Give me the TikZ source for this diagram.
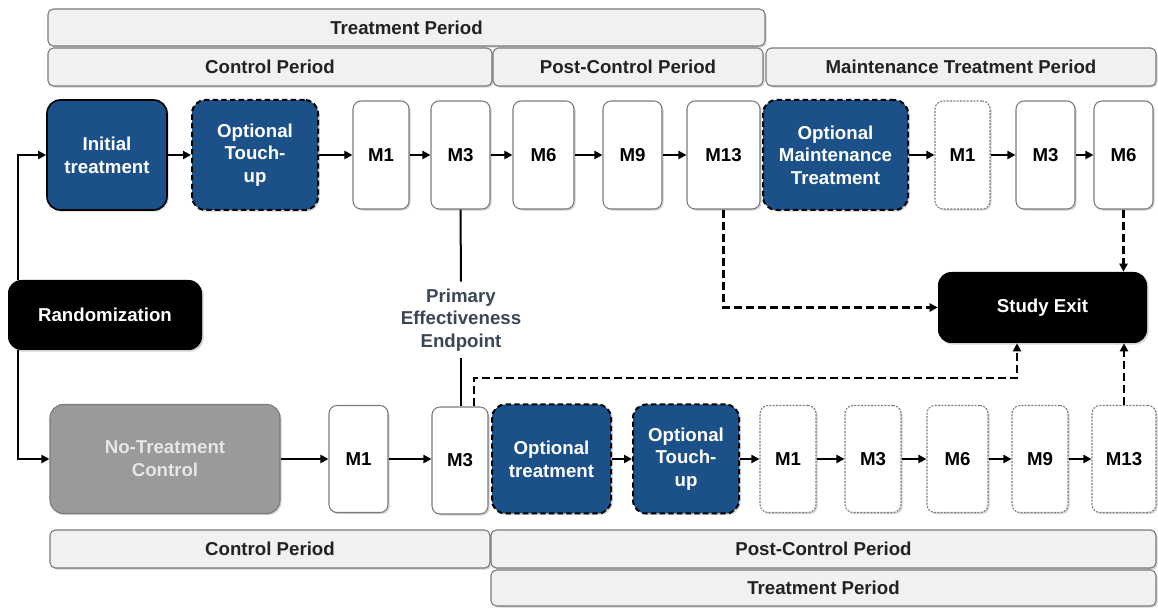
\documentclass[tikz,border=0pt]{standalone}
\usepackage{fontspec}
\setmainfont{Liberation Sans}
\usetikzlibrary{arrows.meta,shadows}
\definecolor{myblue}{HTML}{1C5089}
\definecolor{hdrfill}{HTML}{F1F1F1}
\definecolor{hdrline}{HTML}{7A7A7A}
\definecolor{ctrlgray}{HTML}{9A9A9A}
\definecolor{ctrltext}{HTML}{E6E6E6}
\definecolor{endpt}{HTML}{3A4656}
\definecolor{hdrtext}{HTML}{222222}
\tikzset{
  sz/.style 2 args={minimum width={#1*0.75pt}, minimum height={#2*0.75pt}},
  base/.style={inner sep=0pt, align=center, font=\fontsize{14}{17}\selectfont\bfseries},
  shad/.style={drop shadow={opacity=0.35, shadow xshift=1.2pt, shadow yshift=-1.2pt}},
  hdr/.style={base, fill=hdrfill, draw=hdrline, line width=0.8pt, rounded corners=4pt, text=hdrtext, shad},
  bluebox/.style={base, fill=myblue, text=white, draw=black, line width=1.2pt, rounded corners=10pt, shad},
  bluedash/.style={bluebox, line width=1.5pt, dash pattern=on 4pt off 2.5pt},
  graybox/.style={base, fill=ctrlgray, text=ctrltext, draw=hdrline, line width=0.8pt, rounded corners=10pt, shad},
  mbox/.style={base, fill=white, draw=hdrline, line width=0.8pt, rounded corners=6pt, shad},
  mdot/.style={mbox, dash pattern=on 1.5pt off 1pt},
  blackbox/.style={base, fill=black, text=white, rounded corners=10pt, shad},
  arr/.style={line width=1.5pt, -{Triangle[length=6pt,width=6pt]}},
  darr/.style={line width=2pt, dash pattern=on 6pt off 3pt, -{Triangle[length=6pt,width=6pt]}},
  plain/.style={line width=1.5pt},
}
\begin{document}
\begin{tikzpicture}[x=0.75pt,y=-0.75pt]
\useasboundingbox (0,0) rectangle (1158,609);
% headers top
\node[hdr, sz={717}{37}] (hTP) at (406.5,27.5) {Treatment Period};
\node[hdr, sz={444}{38}] (hCP) at (270,67) {Control Period};
\node[hdr, sz={270}{38}] (hPCP) at (628,67) {Post-Control Period};
\node[hdr, sz={390}{38}] (hMTP) at (961,67) {Maintenance Treatment Period};
% headers bottom
\node[hdr, sz={440}{38}] (bCP) at (270,549) {Control Period};
\node[hdr, sz={665}{38}] (bPCP) at (823.5,549) {Post-Control Period};
\node[hdr, sz={665}{36}] (bTP) at (823.5,588) {Treatment Period};
% top row
\node[bluebox, sz={120}{110}] (init) at (107,155) {Initial\\treatment};
\node[bluedash, sz={126}{110}] (tou1) at (255,155) {Optional\\Touch-\\up};
\node[mbox, sz={56}{108}] (t1) at (381,155) {M1};
\node[mbox, sz={59}{108}] (t3) at (460.5,155) {M3};
\node[mbox, sz={61}{108}] (t6) at (543.5,155) {M6};
\node[mbox, sz={59}{108}] (t9) at (632.5,155) {M9};
\node[mbox, sz={73}{108}] (t13) at (723.5,155) {M13};
\node[bluedash, sz={145}{110}] (omt) at (835.5,155) {Optional\\Maintenance\\Treatment};
\node[mdot, sz={55}{108}] (tm1) at (962.5,155) {M1};
\node[mbox, sz={59}{108}] (tm3) at (1045.5,155) {M3};
\node[mbox, sz={59}{108}] (tm6) at (1123.5,155) {M6};
% middle
\node[blackbox, sz={194}{70}] (rand) at (105,315) {Randomization};
\node[blackbox, sz={209}{71}] (exit) at (1042.5,307.5) {Study Exit};
\node[base, text=endpt, inner sep=5pt] (pe) at (461,320) {Primary\\Effectiveness\\Endpoint};
% bottom row
\node[graybox, sz={230}{109}] (ntc) at (165,459) {No-Treatment\\Control};
\node[mbox, sz={59}{107}] (b1) at (358.5,459) {M1};
\node[mbox, sz={56}{107}] (b3) at (460,460.5) {M3};
\node[bluedash, sz={119}{109}] (otr) at (551.5,459) {Optional\\treatment};
\node[bluedash, sz={106}{109}] (otu) at (686,459) {Optional\\Touch-\\up};
\node[mdot, sz={56}{107}] (bm1) at (788,459) {M1};
\node[mdot, sz={56}{107}] (bm3) at (873,459) {M3};
\node[mdot, sz={61}{107}] (bm6) at (957.5,459) {M6};
\node[mdot, sz={56}{107}] (bm9) at (1040,459) {M9};
\node[mdot, sz={64}{107}] (bm13) at (1124,459) {M13};
% coordinates
\coordinate (vx) at (18,0);
\coordinate (c1) at (474,378);
\coordinate (ex2) at (1017,0);
% randomization branches
\draw[arr] (rand.north -| vx) |- (init.west);
\draw[arr] (rand.south -| vx) |- (ntc.west);
% top row arrows
\draw[arr] (init) -- (tou1);
\draw[arr] (tou1) -- (t1);
\draw[arr] (t1) -- (t3);
\draw[arr] (t3) -- (t6);
\draw[arr] (t6) -- (t9);
\draw[arr] (t9) -- (t13);
\draw[arr] (omt) -- (tm1);
\draw[arr] (tm1) -- (tm3);
\draw[arr] (tm3) -- (tm6);
% bottom row arrows
\draw[arr] (ntc) -- (b1);
\draw[arr] (b1) -- (b3.west |- b1);
\draw[arr] (otr) -- (otu);
\draw[arr] (otu) -- (bm1);
\draw[arr] (bm1) -- (bm3);
\draw[arr] (bm3) -- (bm6);
\draw[arr] (bm6) -- (bm9);
\draw[arr] (bm9) -- (bm13);
% endpoint lines
\draw[plain] (t3.south) -- (pe.north);
\draw[plain] (pe.south) -- (b3.north -| pe.south);
% dashed exits
\draw[darr] (t13.south) |- (exit.west);
\draw[darr] (tm6.south) -- (exit.north -| tm6.south);
\draw[darr] (b3.north -| c1) -- (c1) -| (exit.south -| ex2);
\draw[darr] (bm13.north) -- (exit.south -| bm13.north);
\end{tikzpicture}
\end{document}
